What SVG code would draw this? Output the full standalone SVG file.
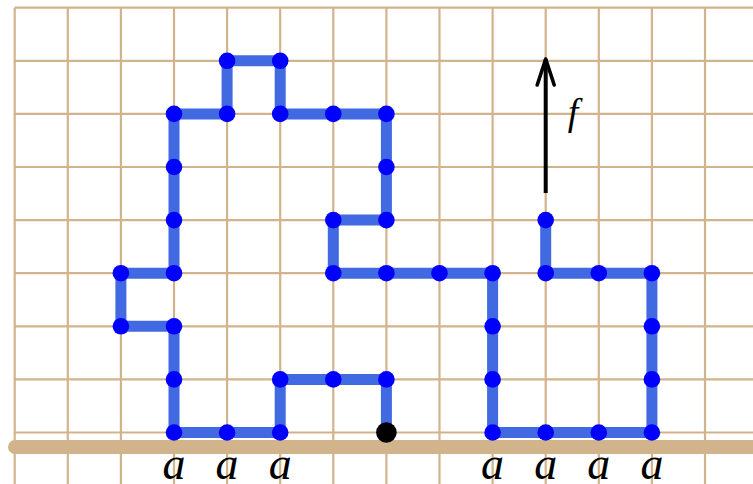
<svg xmlns="http://www.w3.org/2000/svg" width="753" height="484" viewBox="0 0 753 484">
<style>
.grid{stroke:#D2B48C;stroke-width:2.2;fill:none}
.path{stroke:#4169E1;stroke-width:11;fill:none;stroke-linejoin:miter}
.dot{fill:#0000FF}
.lbl{font-family:"Liberation Serif",serif;font-style:italic;font-size:46px;fill:#000;text-anchor:middle}
</style>
<defs>
<marker id="arr" viewBox="-30 -12 33 24" markerWidth="33" markerHeight="24" refX="0" refY="0" orient="auto" markerUnits="userSpaceOnUse">
<path d="M-26,-8.5 Q-9,-3 0,0 Q-9,3 -26,8.5" fill="none" stroke="#000" stroke-width="3.6" stroke-linecap="round" stroke-linejoin="round"/>
</marker>
</defs>
<rect width="753" height="484" fill="#fff"/>
<g id="grid" class="grid">
<path d="M14.7,7.7V484M67.8,7.7V484M120.9,7.7V484M174,7.7V484M227.1,7.7V484M280.2,7.7V484M333.3,7.7V484M386.4,7.7V484M439.5,7.7V484M492.6,7.7V484M545.7,7.7V484M598.8,7.7V484M651.9,7.7V484M705,7.7V484"/>
<path d="M14.7,7.7H753M14.7,60.8H753M14.7,113.9H753M14.7,167H753M14.7,220.1H753M14.7,273.2H753M14.7,326.3H753M14.7,379.4H753M14.7,432.5H753"/>
</g>
<g id="floor"><line x1="15" y1="447" x2="760" y2="447" stroke="#D2B48C" stroke-width="14" stroke-linecap="round"/></g>
<g id="connectors">
<polyline class="path" points="386.4,432.5 386.4,379.4 333.3,379.4 280.2,379.4 280.2,432.5 227.1,432.5 174,432.5 174,379.4 174,326.3 120.9,326.3 120.9,273.2 174,273.2 174,220.1 174,167 174,113.9 227.1,113.9 227.1,60.8 280.2,60.8 280.2,113.9 333.3,113.9 386.4,113.9 386.4,167 386.4,220.1 333.3,220.1 333.3,273.2 386.4,273.2 439.5,273.2 492.6,273.2 492.6,326.3 492.6,379.4 492.6,432.5 545.7,432.5 598.8,432.5 651.9,432.5 651.9,379.4 651.9,326.3 651.9,273.2 598.8,273.2 545.7,273.2 545.7,220.1"/>
<line id="f-arrow" x1="545.7" y1="193" x2="545.7" y2="59" stroke="#000" stroke-width="4" marker-end="url(#arr)"/>
</g>
<g id="nodes">
<g class="dot">
<circle cx="386.4" cy="379.4" r="8.3"/><circle cx="333.3" cy="379.4" r="8.3"/><circle cx="280.2" cy="379.4" r="8.3"/><circle cx="280.2" cy="432.5" r="8.3"/><circle cx="227.1" cy="432.5" r="8.3"/><circle cx="174" cy="432.5" r="8.3"/><circle cx="174" cy="379.4" r="8.3"/><circle cx="174" cy="326.3" r="8.3"/><circle cx="120.9" cy="326.3" r="8.3"/><circle cx="120.9" cy="273.2" r="8.3"/><circle cx="174" cy="273.2" r="8.3"/><circle cx="174" cy="220.1" r="8.3"/><circle cx="174" cy="167" r="8.3"/><circle cx="174" cy="113.9" r="8.3"/><circle cx="227.1" cy="113.9" r="8.3"/><circle cx="227.1" cy="60.8" r="8.3"/><circle cx="280.2" cy="60.8" r="8.3"/><circle cx="280.2" cy="113.9" r="8.3"/><circle cx="333.3" cy="113.9" r="8.3"/><circle cx="386.4" cy="113.9" r="8.3"/><circle cx="386.4" cy="167" r="8.3"/><circle cx="386.4" cy="220.1" r="8.3"/><circle cx="333.3" cy="220.1" r="8.3"/><circle cx="333.3" cy="273.2" r="8.3"/><circle cx="386.4" cy="273.2" r="8.3"/><circle cx="439.5" cy="273.2" r="8.3"/><circle cx="492.6" cy="273.2" r="8.3"/><circle cx="492.6" cy="326.3" r="8.3"/><circle cx="492.6" cy="379.4" r="8.3"/><circle cx="492.6" cy="432.5" r="8.3"/><circle cx="545.7" cy="432.5" r="8.3"/><circle cx="598.8" cy="432.5" r="8.3"/><circle cx="651.9" cy="432.5" r="8.3"/><circle cx="651.9" cy="379.4" r="8.3"/><circle cx="651.9" cy="326.3" r="8.3"/><circle cx="651.9" cy="273.2" r="8.3"/><circle cx="598.8" cy="273.2" r="8.3"/><circle cx="545.7" cy="273.2" r="8.3"/><circle cx="545.7" cy="220.1" r="8.3"/>
</g>
<circle id="start" cx="386.4" cy="432.5" r="10.3" fill="#000"/>
</g>
<g id="labels" class="lbl">
<text x="174" y="479">a</text><text x="227.1" y="479">a</text><text x="280.2" y="479">a</text>
<text x="492.6" y="479">a</text><text x="545.7" y="479">a</text><text x="598.8" y="479">a</text><text x="651.9" y="479">a</text>
<text x="573" y="125" style="font-size:38px">f</text>
</g>
</svg>
